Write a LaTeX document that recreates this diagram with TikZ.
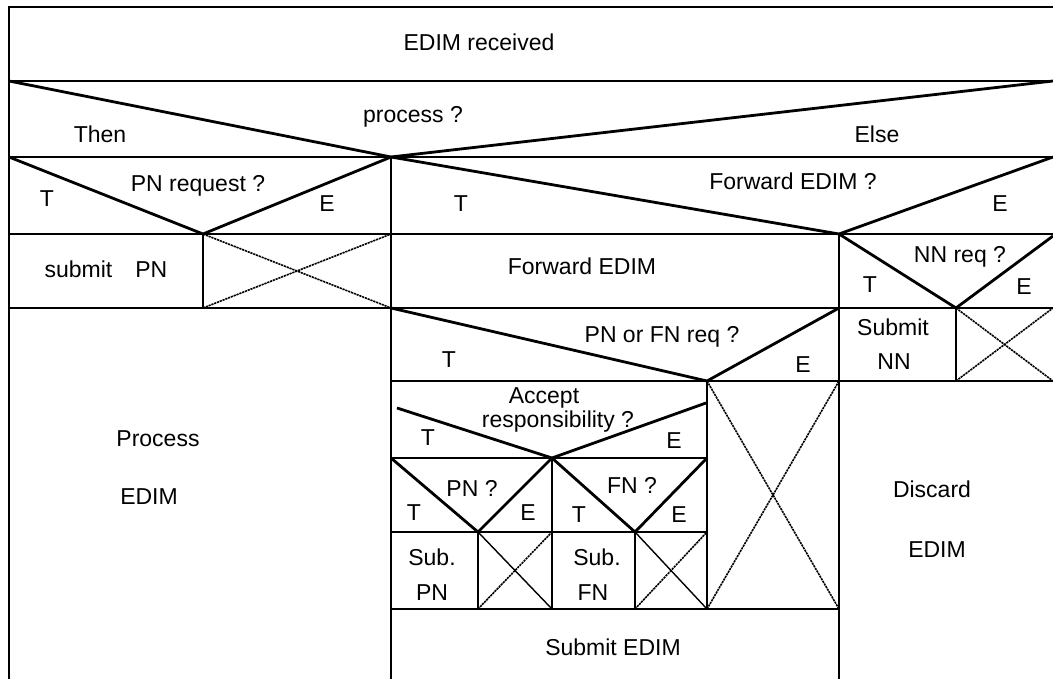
\documentclass[tikz,border=0pt]{standalone}
\usepackage{fontspec}
\setmainfont{Liberation Sans}
\begin{document}
\begin{tikzpicture}[x=1pt,y=-1pt,
  frame/.style={line width=2.2pt, line cap=rect},
  cond/.style={line width=2.8pt, line join=miter},
  empty/.style={line width=1.4pt},
  emptyb/.style={line width=1.6pt, dash pattern=on 2.2pt off 0.8pt},
  lbl/.style={anchor=base, inner sep=0pt, font=\fontsize{23}{27}\selectfont}]
\useasboundingbox (0,0) rectangle (1053,679);

% ---- horizontal rules
\draw[frame] (9,7) -- (1053,7);
\draw[frame] (9,81) -- (1053,81);
\draw[frame] (9,157) -- (1053,157);
\draw[frame] (9,234) -- (1053,234);
\draw[frame] (9,308) -- (1053,308);
\draw[frame] (391,381) -- (1053,381);
\draw[frame] (391,458) -- (707,458);
\draw[frame] (391,532) -- (707,532);
\draw[frame] (391,609) -- (839,609);

% ---- vertical rules
\draw[frame] (9,7) -- (9,679);
\draw[frame] (391,157) -- (391,679);
\draw[frame] (839,234) -- (839,679);
\draw[frame] (203,234) -- (203,308);
\draw[frame] (956,308) -- (956,381);
\draw[frame] (707,381) -- (707,609);
\draw[frame] (552,458) -- (552,609);
\draw[frame] (478,532) -- (478,609);
\draw[frame] (635,532) -- (635,609);

% ---- condition triangles
\draw[cond] (9,81) -- (391,157) -- (1053,81);
\draw[cond] (9,157) -- (203,234) -- (391,157);
\draw[cond] (391,157) -- (839,234) -- (1053,157);
\draw[cond] (839,234) -- (956,308) -- (1053,236);
\draw[cond] (391,308) -- (707,381) -- (839,308);
\draw[cond] (397,408) -- (552,458) -- (706,403);
\draw[cond] (391,458) -- (478,532) -- (552,458);
\draw[cond] (552,458) -- (635,532) -- (707,458);

% ---- empty branches
\draw[emptyb] (203,234) -- (391,308);
\draw[emptyb] (203,308) -- (391,234);
\draw[emptyb] (956,308) -- (1053,381);
\draw[emptyb] (956,381) -- (1053,308);
\draw[emptyb] (707,381) -- (839,609);
\draw[emptyb] (707,609) -- (839,381);
\draw[empty] (478,532) -- (552,609);
\draw[emptyb] (478,609) -- (552,532);
\draw[empty] (635,532) -- (707,609);
\draw[emptyb] (635,609) -- (707,532);

% ---- texts
\node[lbl] (recv) at (479,51) {EDIM received};
\node[lbl] (proc) at (413,123) {process ?};
\node[lbl] (then) at (100,143) {Then};
\node[lbl] (else) at (877,143) {Else};

\node[lbl] (pnq) at (198,192) {PN request ?};
\node[lbl] (pnqT) at (47,207) {T};
\node[lbl] (pnqE) at (327,212) {E};
\node[lbl] (subpn) at (106,278) {submit\quad PN};

\node[lbl] (fwdq) at (793,190) {Forward EDIM ?};
\node[lbl] (fwdqT) at (461,212) {T};
\node[lbl] (fwdqE) at (1000,212) {E};
\node[lbl] (fwd) at (582,275) {Forward EDIM};

\node[lbl] (nnq) at (960,263) {NN req ?};
\node[lbl] (nnqT) at (870,293) {T};
\node[lbl] (nnqE) at (1024,295) {E};
\node[lbl] (subnn1) at (893,335) {Submit};
\node[lbl] (subnn2) at (894,370) {NN};

\node[lbl] (pfq) at (662,342) {PN or FN req ?};
\node[lbl] (pfqT) at (449,367) {T};
\node[lbl] (pfqE) at (803,372) {E};

\node[lbl] (acc1) at (544,403) {Accept};
\node[lbl] (acc2) at (558,427) {responsibility ?};
\node[lbl] (accT) at (428,445) {T};
\node[lbl] (accE) at (674,448) {E};

\node[lbl] (pnx) at (472,496) {PN ?};
\node[lbl] (pnxT) at (414,520) {T};
\node[lbl] (pnxE) at (528,520) {E};
\node[lbl] (fnx) at (632,493) {FN ?};
\node[lbl] (fnxT) at (579,522) {T};
\node[lbl] (fnxE) at (679,522) {E};

\node[lbl] (spn1) at (432,565) {Sub.};
\node[lbl] (spn2) at (432,600) {PN};
\node[lbl] (sfn1) at (597,565) {Sub.};
\node[lbl] (sfn2) at (593,600) {FN};

\node[lbl] (subedim) at (613,655) {Submit EDIM};
\node[lbl] (pe1) at (158,446) {Process};
\node[lbl] (pe2) at (149,504) {EDIM};
\node[lbl] (de1) at (932,497) {Discard};
\node[lbl] (de2) at (937,557) {EDIM};
\end{tikzpicture}
\end{document}
